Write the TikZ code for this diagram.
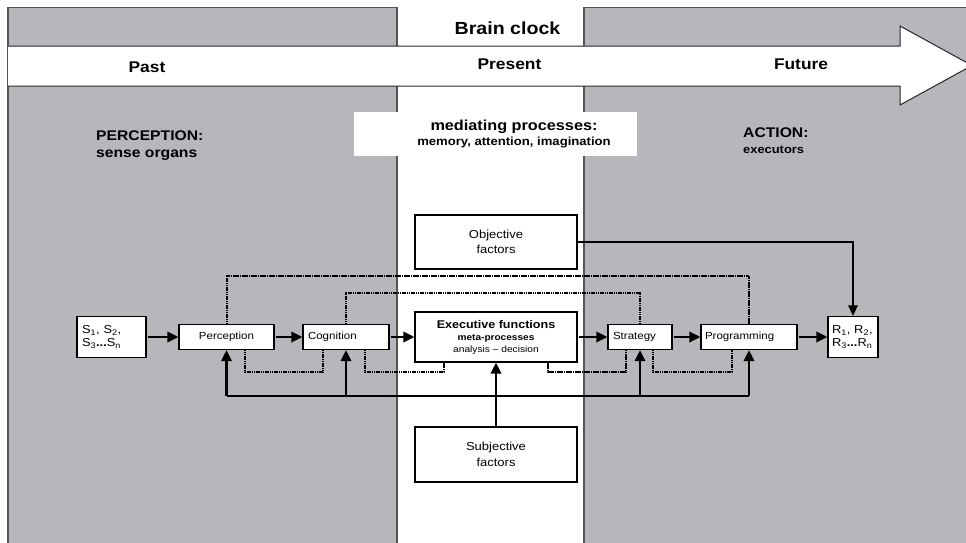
\documentclass[tikz,border=0pt]{standalone}
\usepackage{fontspec}
\setmainfont{Liberation Sans}[FakeStretch=1.12]
\usetikzlibrary{arrows.meta,calc}
\definecolor{panelgray}{RGB}{182,183,187}
\definecolor{edgegray}{RGB}{85,85,85}
\begin{document}
\begin{tikzpicture}[x=1pt,y=-1pt,
  edge/.style={draw=edgegray,line width=1.8pt},
  thinedge/.style={draw=edgegray,line width=1pt},
  box/.style={draw=black,line width=1.3pt,fill=white,inner sep=0pt,
    font=\fontsize{10.3}{12}\selectfont},
  lbox/.style={box,inner xsep=5pt,align=left},
  subbox/.style={draw=black,line width=1.3pt,fill=white,inner ysep=0pt,
    font=\fontsize{11.5}{13}\selectfont,align=left},
  factor/.style={box,minimum width=162pt,align=center,
    font=\fontsize{11.6}{15.5}\selectfont},
  arr/.style={line width=2.2pt,-{Triangle[length=11pt,width=10.5pt]},shorten <=1.5pt},
  fbline/.style={line width=1.6pt},
  objarr/.style={line width=1.5pt,-{Triangle[length=10.5pt,width=9.5pt]}},
  dot/.style={line width=2pt,draw=black,dash pattern=on 1.3pt off 0.5pt}
]
\useasboundingbox (0,0) rectangle (966,542);
\clip (0,0) rectangle (966,542);

% panels
\fill[panelgray] (8,7) rectangle (397,560);
\fill[panelgray] (584,7) rectangle (990,560);
\draw[thinedge] (8,7) -- (397,7);
\draw[thinedge] (584,7) -- (990,7);
\draw[edge] (8,7) -- (8,560);
\draw[edge] (397,7) -- (397,560);
\draw[edge] (584,7) -- (584,560);

% time arrow
\draw[fill=white,draw=black!85,line width=1pt]
  (8,46) -- (900,46) -- (900,26) -- (972,65.5) -- (900,105) -- (900,86) -- (8,86);

\node[font=\fontsize{17.5}{20}\selectfont\bfseries] (brain) at (507.5,28) {Brain clock};
\node[font=\fontsize{15.5}{18}\selectfont\bfseries] (past) at (147,67) {Past};
\node[font=\fontsize{15.5}{18}\selectfont\bfseries] (present) at (509.5,64) {Present};
\node[font=\fontsize{15.5}{18}\selectfont\bfseries] (future) at (801,64) {Future};

% mediating processes
\node[fill=white,minimum width=283pt,minimum height=44pt,inner sep=0pt] (medbox) at (495.5,134) {};
\node[align=center,inner sep=0pt,font=\fontsize{14.5}{15.3}\selectfont\bfseries] (medtext) at (514,134)
  {mediating processes:\\{\fontsize{11.7}{15.3}\selectfont memory, attention, imagination}};

\node[anchor=north west,align=left,inner sep=0pt,font=\fontsize{14}{17}\selectfont\bfseries] (percep) at (96,131)
  {PERCEPTION:\\sense organs};
\node[anchor=north west,align=left,inner sep=0pt,font=\fontsize{14}{16}\selectfont\bfseries] (action) at (743,128)
  {ACTION:\\{\fontsize{11.5}{16}\selectfont executors}};

% boxes
\node[subbox,inner xsep=5pt,text width=59pt,minimum height=41pt] (S) at (111.5,337)
  {S\textsubscript{1}, S\textsubscript{2},\\S\textsubscript{3}\textbf{...}S\textsubscript{n}};
\node[box,minimum width=95pt,minimum height=25pt] (perc) at (226.5,337) {Perception};
\node[lbox,text width=76pt,minimum height=25pt] (cog) at (346,337) {Cognition};
\node[box,minimum width=162pt,minimum height=50pt,align=center,font=\fontsize{9.1}{12}\selectfont] (exec) at (496,337)
  {{\fontsize{11.2}{12}\selectfont\bfseries Executive functions}\\{\fontsize{9}{12}\selectfont\bfseries meta-processes}\\analysis -- decision};
\node[lbox,text width=54pt,minimum height=25pt] (strat) at (640,337) {Strategy};
\node[lbox,inner xsep=4pt,text width=88pt,minimum height=25pt] (prog) at (749,337) {Programming};
\node[subbox,inner xsep=4pt,text width=42pt,minimum height=41pt] (R) at (853,337)
  {R\textsubscript{1}, R\textsubscript{2},\\R\textsubscript{3}\textbf{...}R\textsubscript{n}};
\node[factor,minimum height=54pt] (obj) at (496,242) {Objective\\factors};
\node[factor,minimum height=55pt] (subj) at (496,454.5) {Subjective\\factors};

% helper levels
\coordinate (d1) at (0,276);
\coordinate (d2) at (0,293);
\coordinate (d3) at (0,372);
\coordinate (fb) at (0,396);

% dotted loops above
\draw[dot] (perc.north) -- (perc.north |- d1) -- (prog.north |- d1) -- (prog.north);
\draw[dot] (cog.north) -- (cog.north |- d2) -- (strat.north |- d2) -- (strat.north);
% dotted loops below
\draw[dot] ([xshift=18.5pt]perc.south) |- ([xshift=-23pt]cog.south |- d3) -- ([xshift=-23pt]cog.south);
\draw[dot] ([xshift=19pt]cog.south) |- ([xshift=-52pt]exec.south |- d3) -- ([xshift=-52pt]exec.south);
\draw[dot] ([xshift=52pt]exec.south) |- ([xshift=-14pt]strat.south |- d3) -- ([xshift=-14pt]strat.south);
\draw[dot] ([xshift=13pt]strat.south) |- ([xshift=-17pt]prog.south |- d3) -- ([xshift=-17pt]prog.south);

% feedback line
\draw[fbline] (perc.south |- fb) -- (prog.south |- fb);
\foreach \n in {perc,cog,strat,prog}
  \draw[arr,shorten <=0pt] (\n.south |- fb) -- (\n.south);

% main chain
\draw[arr] (S) -- (perc);
\draw[arr] (perc) -- (cog);
\draw[arr] (cog) -- (exec);
\draw[arr] (exec) -- (strat);
\draw[arr] (strat) -- (prog);
\draw[arr] (prog) -- (R);

% factors
\draw[objarr] (obj.east) -| (R.north);
\draw[arr,shorten <=0pt] (subj) -- (exec);
\end{tikzpicture}
\end{document}
